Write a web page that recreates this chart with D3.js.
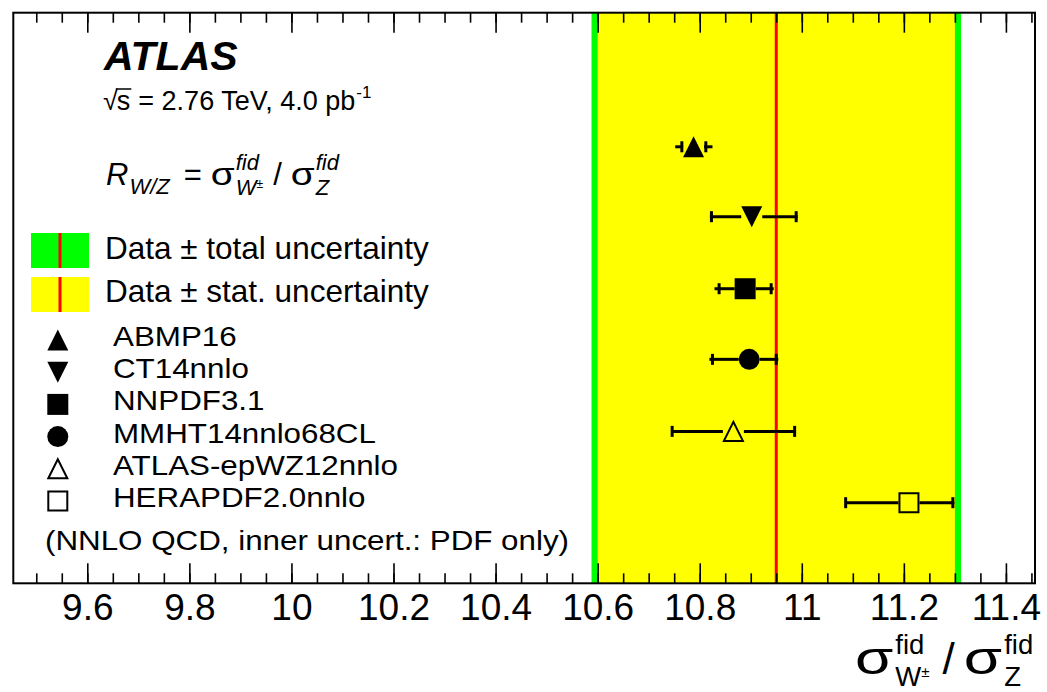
<!DOCTYPE html>
<html>
<head>
<meta charset="utf-8">
<script src="https://cdn.jsdelivr.net/npm/d3@7"></script>
<style>
  html, body { margin: 0; padding: 0; background: #fff; }
  svg { display: block; }
  text { font-family: "Liberation Sans", Arial, Helvetica, sans-serif; fill: #000; }
</style>
</head>
<body>
<svg id="chart" width="1047" height="692"></svg>
<script>
// ---- Measured ratio R_W/Z (data) ----
const dataCentral = 10.95;
const dataStat = 0.35;
const dataTotal = 0.362;

// ---- NNLO predictions ----
const pdfSets   = ["ABMP16", "CT14nnlo", "NNPDF3.1", "MMHT14nnlo68CL", "ATLAS-epWZ12nnlo", "HERAPDF2.0nnlo"];
const markers   = ["triUp", "triDown", "square", "circle", "triUpOpen", "squareOpen"];
const predValue = [10.788, 10.902, 10.889, 10.897, 10.866, 11.210];
const pdfLow    = [10.765, 10.823, 10.838, 10.825, 10.746, 11.086];
const pdfHigh   = [10.812, 10.989, 10.940, 10.950, 10.986, 11.296];
const totLow    = [10.752, 10.820, 10.829, 10.819, 10.745, 11.085];
const totHigh   = [10.825, 10.992, 10.945, 10.954, 10.987, 11.299];
const rowPos    = [6.12, 5.14, 4.13, 3.14, 2.13, 1.13];

// ---- Axis ----
const majorTicks = [9.6, 9.8, 10.0, 10.2, 10.4, 10.6, 10.8, 11.0, 11.2, 11.4];
const tickLabels = ["9.6", "9.8", "10", "10.2", "10.4", "10.6", "10.8", "11", "11.2", "11.4"];

const svg = d3.select("#chart");
const frame = { left: 13.3, right: 1035, top: 12.7, bottom: 583.3 };

const x = d3.scaleLinear().domain([9.455, 11.457]).range([frame.left, frame.right]);
const y = d3.scaleLinear().domain([0, 8]).range([frame.bottom, frame.top]);

const GREEN = "#00ff00", YELLOW = "#ffff00", RED = "#ff0000";

// ---- Data bands ----
const bands = svg.append("g");
bands.append("rect")
  .attr("x", x(dataCentral - dataTotal)).attr("y", frame.top)
  .attr("width", x(dataCentral + dataTotal) - x(dataCentral - dataTotal))
  .attr("height", frame.bottom - frame.top)
  .attr("fill", GREEN);
bands.append("rect")
  .attr("x", x(dataCentral - dataStat)).attr("y", frame.top)
  .attr("width", x(dataCentral + dataStat) - x(dataCentral - dataStat))
  .attr("height", frame.bottom - frame.top)
  .attr("fill", YELLOW);
bands.append("line")
  .attr("x1", x(dataCentral)).attr("x2", x(dataCentral))
  .attr("y1", frame.top).attr("y2", frame.bottom)
  .attr("stroke", RED).attr("stroke-width", 3);

// ---- Axes (ticks point inward, mirrored on top) ----
function styleAxis(g) {
  g.select(".domain").remove();
  g.selectAll(".tick line").attr("stroke", "#000").attr("stroke-width", 1.6);
}
const minorTicks = x.ticks(40);
svg.append("g").attr("transform", `translate(0,${frame.bottom})`)
  .call(d3.axisBottom(x).tickValues(minorTicks).tickSize(-10).tickFormat(""))
  .call(styleAxis);
svg.append("g").attr("transform", `translate(0,${frame.top})`)
  .call(d3.axisTop(x).tickValues(minorTicks).tickSize(-10).tickFormat(""))
  .call(styleAxis);
const bottomAxis = svg.append("g").attr("transform", `translate(0,${frame.bottom})`)
  .call(d3.axisBottom(x).tickValues(majorTicks).tickSize(-20).tickPadding(10)
        .tickFormat((d, i) => tickLabels[i]))
  .call(styleAxis);
bottomAxis.selectAll(".tick text")
  .attr("fill", "#000")
  .style("font-family", '"Liberation Sans", Arial, sans-serif')
  .style("font-size", "37px");
svg.append("g").attr("transform", `translate(0,${frame.top})`)
  .call(d3.axisTop(x).tickValues(majorTicks).tickSize(-20).tickFormat(""))
  .call(styleAxis);

// ---- Frame ----
svg.append("rect")
  .attr("x", frame.left).attr("y", frame.top)
  .attr("width", frame.right - frame.left).attr("height", frame.bottom - frame.top)
  .attr("fill", "none").attr("stroke", "#000").attr("stroke-width", 2);

// ---- Marker shapes ----
function markerPath(kind, s) {
  const h = s / 2;
  switch (kind) {
    case "triUp": case "triUpOpen":
      return `M0,${-h}L${h},${h}L${-h},${h}Z`;
    case "triDown":
      return `M0,${h}L${h},${-h}L${-h},${-h}Z`;
    case "square": case "squareOpen":
      return `M${-h},${-h}H${h}V${h}H${-h}Z`;
    case "circle":
      return d3.symbol(d3.symbolCircle, Math.PI * h * h)();
  }
}
function drawMarker(g, kind, cx, cy, s) {
  const open = kind.endsWith("Open");
  g.append("path")
    .attr("d", markerPath(kind, open ? s - 2 : s))
    .attr("transform", `translate(${cx},${cy})`)
    .attr("fill", open ? "none" : "#000")
    .attr("stroke", "#000")
    .attr("stroke-width", open ? 2 : 0);
}

// ---- Predictions with error bars ----
const MS = 21;
const preds = svg.append("g");
pdfSets.forEach((name, i) => {
  const cy = y(rowPos[i]);
  const cx = x(predValue[i]);
  const half = MS / 2;
  // total uncertainty line, split around the marker
  preds.append("line").attr("x1", x(totLow[i])).attr("x2", Math.max(x(totLow[i]), cx - half))
    .attr("y1", cy).attr("y2", cy).attr("stroke", "#000").attr("stroke-width", 3);
  preds.append("line").attr("x1", Math.min(x(totHigh[i]), cx + half)).attr("x2", x(totHigh[i]))
    .attr("y1", cy).attr("y2", cy).attr("stroke", "#000").attr("stroke-width", 3);
  // PDF-only caps
  [pdfLow[i], pdfHigh[i]].forEach(v => {
    preds.append("line").attr("x1", x(v)).attr("x2", x(v))
      .attr("y1", cy - 5.5).attr("y2", cy + 5.5)
      .attr("stroke", "#000").attr("stroke-width", 3);
  });
  drawMarker(preds, markers[i], cx, cy, MS);
});

// ---- Math-like text helper ----
// Each item is either a run of text ({t}) or a stacked superscript/subscript pair ({sup, sub}).
// A run may carry a horizontal stretch (sx) to widen Greek glyphs.
function drawMath(parent, x0, base, items) {
  let cx = x0;
  items.forEach(it => {
    if (it.sup !== undefined || it.sub !== undefined) {
      let w = 0;
      if (it.sup !== undefined) {
        const t = parent.append("text").attr("x", cx).attr("y", base - it.raise)
          .style("font-size", it.size + "px").style("font-style", it.italic ? "italic" : "normal")
          .text(it.sup);
        w = Math.max(w, t.node().getComputedTextLength());
      }
      if (it.sub !== undefined) {
        const t = parent.append("text").attr("x", cx).attr("y", base + it.drop)
          .style("font-size", it.size + "px").style("font-style", it.italic ? "italic" : "normal")
          .text(it.sub);
        if (it.subMark) {
          t.append("tspan").attr("dy", -it.size * 0.3)
            .style("font-size", (it.size * 0.55) + "px").style("font-style", "normal")
            .text(it.subMark);
        }
        w = Math.max(w, t.node().getComputedTextLength());
      }
      cx += w + (it.gap || 0);
    } else {
      const sx = it.sx || 1;
      const t = parent.append("text")
        .attr("transform", `translate(${cx},${base + (it.dy || 0)}) scale(${sx},1)`)
        .style("font-size", it.size + "px")
        .style("font-style", it.italic ? "italic" : "normal")
        .text(it.t);
      cx += t.node().getComputedTextLength() * sx + (it.gap || 0);
    }
  });
  return cx;
}

// Text drawn slightly wide, in the manner of the ROOT Helvetica rendering
function wideText(parent, tx, ty, size, stretch, str) {
  return parent.append("text")
    .attr("transform", `translate(${tx},${ty}) scale(${stretch},1)`)
    .style("font-size", size + "px")
    .text(str);
}

const labels = svg.append("g");

// ATLAS label
labels.append("text").attr("x", 104).attr("y", 70)
  .style("font-size", "41px").style("font-weight", "bold").style("font-style", "italic")
  .text("ATLAS");

// sqrt(s) line
{
  const g = labels.append("g");
  const fs = 27, base = 110, x0 = 103;
  const root = g.append("text").attr("x", x0).attr("y", base).style("font-size", fs + "px").text("√");
  const rw = root.node().getComputedTextLength();
  const s = g.append("text").attr("x", x0 + rw - 1).attr("y", base).style("font-size", fs + "px").text("s");
  const sw = s.node().getComputedTextLength();
  g.append("line").attr("x1", x0 + rw - 2).attr("x2", x0 + rw + sw)
    .attr("y1", base - 21).attr("y2", base - 21).attr("stroke", "#000").attr("stroke-width", 1.5);
  drawMath(g, x0 + rw + sw + 7, base, [
    { t: "= 2.76 TeV, 4.0 pb", size: fs, gap: 1 },
    { sup: "-1", raise: 12, size: 17 }
  ]);
}

// R_W/Z definition
drawMath(labels, 106, 185, [
  { t: "R", size: 31, italic: true, gap: 1 },
  { sub: "W/Z", drop: 9, size: 22, italic: true, gap: 14 },
  { t: "=", size: 31, gap: 9 },
  { t: "σ", size: 31, sx: 1.25, gap: 1 },
  { sup: "fid", sub: "W", subMark: "±", raise: 15, drop: 10, size: 22, italic: true, gap: 10 },
  { t: "/", size: 31, gap: 9 },
  { t: "σ", size: 31, sx: 1.25, gap: 1 },
  { sup: "fid", sub: "Z", raise: 15, drop: 10, size: 22, italic: true }
]);

// Band legend
const legendBands = [
  { color: GREEN, y0: 233, label: "Data ± total uncertainty", base: 258.5 },
  { color: YELLOW, y0: 277, label: "Data ± stat. uncertainty", base: 302 }
];
legendBands.forEach(b => {
  labels.append("rect").attr("x", 31).attr("y", b.y0).attr("width", 58).attr("height", 35).attr("fill", b.color);
  labels.append("line").attr("x1", 60).attr("x2", 60).attr("y1", b.y0).attr("y2", b.y0 + 35)
    .attr("stroke", RED).attr("stroke-width", 3);
  labels.append("text").attr("x", 105).attr("y", b.base).style("font-size", "31.5px").text(b.label);
});

// Marker legend
pdfSets.forEach((name, i) => {
  const base = 346 + 32.2 * i;
  drawMarker(labels, markers[i], 57.8, base - 6, 21);
  wideText(labels, 113, base, 28.5, 1.1, name);
});
wideText(labels, 45, 550, 28.5, 1.1, "(NNLO QCD, inner uncert.: PDF only)");

// Axis title
drawMath(labels, 855, 674, [
  { t: "σ", size: 46, sx: 1.35, gap: 2 },
  { sup: "fid", sub: "W", subMark: "±", raise: 20, drop: 11.5, size: 27.5, gap: 13 },
  { t: "/", size: 44, gap: 9 },
  { t: "σ", size: 46, sx: 1.35, gap: 2 },
  { sup: "fid", sub: "Z", raise: 20, drop: 11.5, size: 27.5 }
]);
</script>
</body>
</html>
